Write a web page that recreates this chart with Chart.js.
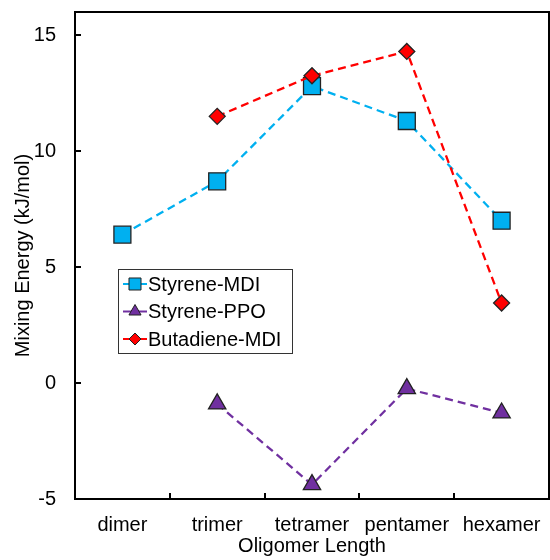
<!DOCTYPE html>
<html><head><meta charset="utf-8">
<script src="https://cdn.jsdelivr.net/npm/chart.js@4.4.1/dist/chart.umd.min.js"></script>
<style>html,body{margin:0;padding:0;background:#fff;}</style>
</head><body>
<canvas id="c" width="550" height="560" style="display:block;width:550px;height:560px"></canvas>
<script>
const categories = ['dimer', 'trimer', 'tetramer', 'pentamer', 'hexamer'];
const styreneMDI = [6.4, 8.7, 12.8, 11.3, 7.0];
const styrenePPO = [null, -0.9, -4.38, -0.24, -1.29];
const butadieneMDI = [null, 11.5, 13.25, 14.3, 3.45];
const yTicks = [-5, 0, 5, 10, 15];
const seriesNames = ['Styrene-MDI', 'Styrene-PPO', 'Butadiene-MDI'];

const FONT = "'Liberation Sans', Arial, Helvetica, sans-serif";
Chart.defaults.font.family = FONT;
Chart.defaults.color = '#000';

const colors = ['#00B0F0', '#7030A0', '#FF0000'];
const styles = ['rect', 'triangle', 'rectRot'];
const radii = [12, 10, 8];
const legendRadii = [8.5, 7, 6];

function drawMarker(ctx, style, x, y, r) {
  ctx.beginPath();
  if (style === 'rect') {
    const s = r * Math.SQRT1_2;
    ctx.rect(x - s, y - s, 2 * s, 2 * s);
  } else if (style === 'triangle') {
    const a1 = 2 * Math.PI / 3, a2 = 4 * Math.PI / 3;
    ctx.moveTo(x, y - r);
    ctx.lineTo(x + r * Math.sin(a1), y - r * Math.cos(a1));
    ctx.lineTo(x + r * Math.sin(a2), y - r * Math.cos(a2));
    ctx.closePath();
  } else {
    ctx.moveTo(x - r, y); ctx.lineTo(x, y - r); ctx.lineTo(x + r, y); ctx.lineTo(x, y + r);
    ctx.closePath();
  }
  ctx.fill(); ctx.stroke();
}

const framePlugin = {
  id: 'frame',
  afterDraw(chart, args, opts) {
    const { ctx, chartArea: a, scales: { x, y } } = chart;
    ctx.save();
    ctx.strokeStyle = '#000';
    ctx.lineWidth = 2;
    ctx.beginPath();
    y.ticks.forEach(t => {
      const py = Math.round(y.getPixelForValue(t.value));
      if (py > a.top + 2 && py < a.bottom - 2) { ctx.moveTo(a.left, py); ctx.lineTo(a.left + 6, py); }
    });
    for (let i = 0; i < categories.length - 1; i++) {
      const px = Math.round((x.getPixelForValue(i) + x.getPixelForValue(i + 1)) / 2);
      ctx.moveTo(px, a.bottom); ctx.lineTo(px, a.bottom - 6);
    }
    ctx.stroke();
    ctx.strokeRect(a.left, a.top, a.right - a.left, a.bottom - a.top);

    // legend
    const L = opts.box;
    ctx.fillStyle = '#fff';
    ctx.fillRect(L.x, L.y, L.w, L.h);
    ctx.lineWidth = 1;
    ctx.strokeStyle = '#333';
    ctx.strokeRect(L.x + 0.5, L.y + 0.5, L.w, L.h);
    chart.data.datasets.forEach((ds) => {
      const idx = seriesNames.indexOf(ds.label);
      const cy = L.y + L.first + idx * L.step;
      ctx.strokeStyle = colors[idx];
      ctx.lineWidth = 2;
      ctx.beginPath();
      ctx.moveTo(L.x + 5, cy); ctx.lineTo(L.x + 29, cy);
      ctx.stroke();
      ctx.fillStyle = colors[idx];
      ctx.strokeStyle = '#222';
      ctx.lineWidth = 1;
      drawMarker(ctx, styles[idx], L.x + 17, cy, legendRadii[idx]);
      ctx.fillStyle = '#000';
      ctx.font = '20px ' + FONT;
      ctx.textAlign = 'left';
      ctx.textBaseline = 'middle';
      ctx.fillText(ds.label, L.x + 30, cy + 1);
    });
    ctx.restore();
  }
};

function makeDataset(i, data, order) {
  return {
    label: seriesNames[i],
    data: data,
    borderColor: colors[i],
    backgroundColor: colors[i],
    borderWidth: 2.3,
    borderDash: [8, 5],
    pointStyle: styles[i],
    pointRadius: radii[i],
    pointHoverRadius: radii[i],
    pointBackgroundColor: colors[i],
    pointBorderColor: '#222',
    pointBorderWidth: 1.3,
    spanGaps: false,
    fill: false,
    tension: 0,
    order: order
  };
}

new Chart(document.getElementById('c'), {
  type: 'line',
  data: {
    labels: categories,
    datasets: [
      makeDataset(0, styreneMDI, 1),
      makeDataset(1, styrenePPO, 2),
      makeDataset(2, butadieneMDI, 0)
    ]
  },
  options: {
    responsive: false,
    devicePixelRatio: 1,
    animation: false,
    layout: { autoPadding: false, padding: { top: 12, right: 1, left: 0, bottom: 0 } },
    plugins: {
      legend: { display: false },
      tooltip: { enabled: false },
      frame: { box: { x: 118, y: 269, w: 174, h: 84, first: 15, step: 27.5 } }
    },
    scales: {
      x: {
        type: 'category',
        offset: true,
        grid: { display: false, drawTicks: false, offset: true },
        border: { display: false },
        ticks: { font: { size: 20 }, padding: 14, maxRotation: 0, autoSkip: false },
        title: { display: true, text: 'Oligomer Length', font: { size: 20 }, padding: { top: 0, bottom: 2 } },
        afterFit(scale) { scale.height = 61; scale.paddingLeft = 0; scale.paddingRight = 0; }
      },
      y: {
        min: -5,
        max: 16,
        grid: { display: false, drawTicks: false },
        border: { display: false },
        ticks: { font: { size: 20 }, padding: 19 },
        afterBuildTicks(scale) { scale.ticks = yTicks.map(v => ({ value: v })); },
        title: { display: true, text: 'Mixing Energy (kJ/mol)', font: { size: 20 }, padding: { top: 11, bottom: 0 } },
        afterFit(scale) { scale.width = 75; scale.paddingTop = 0; scale.paddingBottom = 0; }
      }
    }
  },
  plugins: [framePlugin]
});
</script>
</body></html>
